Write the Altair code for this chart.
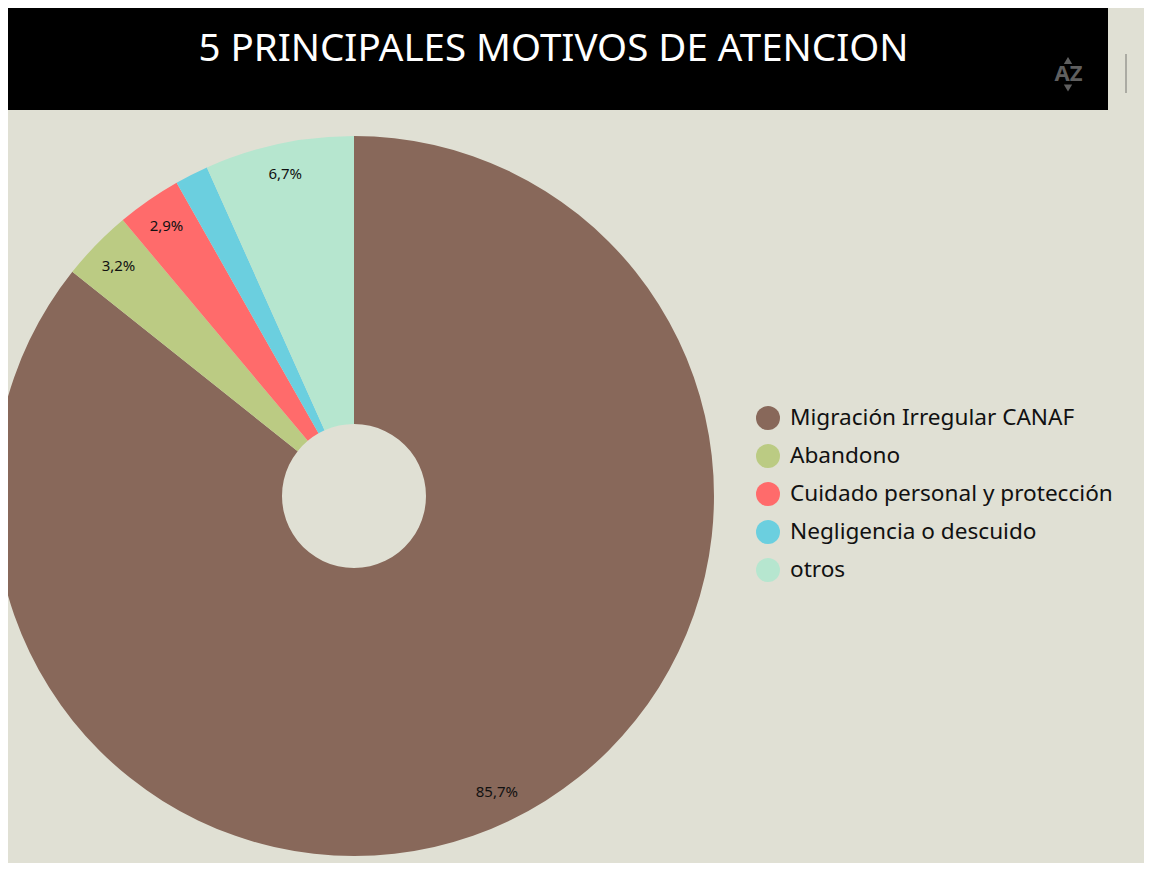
import altair as alt
import pandas as pd

categories = ["Migración Irregular CANAF", "Abandono", "Cuidado personal y protección", "Negligencia o descuido", "otros"]
values = [85.7, 3.2, 2.9, 1.5, 6.7]
labels = ["85,7%", "3,2%", "2,9%", "", "6,7%"]
colors = ["#88685A", "#BBCB83", "#FF6B6B", "#6BCFDF", "#B6E6CF"]
title_text = "5 PRINCIPALES MOTIVOS DE ATENCION"

BG = "#E0E0D4"
FONT = "Noto Sans"
CX, CY = 346, 488

df = pd.DataFrame({"cat": categories, "val": values, "lab": labels, "ord": range(len(values))})

theta = alt.Theta("val:Q", stack=True, scale=alt.Scale(range=[0, 6.283185307]))
order = alt.Order("ord:Q", sort="ascending")

arcs = alt.Chart(df).mark_arc(radius=360, radius2=72, stroke=None).encode(
    theta=theta,
    order=order,
    x=alt.value(CX),
    y=alt.value(CY),
    color=alt.Color(
        "cat:N",
        scale=alt.Scale(domain=categories, range=colors),
        sort=categories,
        legend=alt.Legend(
            title=None,
            orient="none",
            legendX=748,
            legendY=398,
            symbolType="circle",
            symbolSize=576,
            symbolStrokeWidth=0,
            symbolOpacity=1,
            labelFont=FONT,
            labelFontSize=22.6,
            labelColor="#111111",
            labelOffset=10,
            labelLimit=400,
            rowPadding=14,
            padding=0,
        ),
    ),
)

pct = alt.Chart(df).mark_text(radius=329, font=FONT, fontSize=15, color="#111111").encode(
    theta=theta,
    order=order,
    x=alt.value(CX),
    y=alt.value(CY),
    text="lab:N",
)

bar = alt.Chart(pd.DataFrame({"k": [0]})).mark_rect(color="#000000").encode(
    x=alt.value(0), x2=alt.value(1100), y=alt.value(0), y2=alt.value(102)
)
title = alt.Chart(pd.DataFrame({"t": [title_text]})).mark_text(
    font=FONT, fontSize=38.5, color="#FFFFFF", align="center", baseline="middle"
).encode(x=alt.value(545.5), y=alt.value(41), text="t:N")

az = alt.Chart(pd.DataFrame({"t": ["AZ"]})).mark_text(
    font=FONT, fontSize=22, fontWeight="bold", color="#5F5F5F", align="center", baseline="middle"
).encode(x=alt.value(1060.5), y=alt.value(66), text="t:N")
up = alt.Chart(pd.DataFrame({"k": [0]})).mark_point(shape="triangle-up", filled=True, size=70, color="#5F5F5F", opacity=1).encode(
    x=alt.value(1060), y=alt.value(52.5)
)
down = alt.Chart(pd.DataFrame({"k": [0]})).mark_point(shape="triangle-down", filled=True, size=70, color="#5F5F5F", opacity=1).encode(
    x=alt.value(1060), y=alt.value(80)
)
sep = alt.Chart(pd.DataFrame({"k": [0]})).mark_rule(color="#ABABA3", strokeWidth=2).encode(
    x=alt.value(1118), y=alt.value(46), y2=alt.value(85)
)

chart = alt.layer(arcs, pct, bar, title, az, up, down, sep).properties(
    width=1136,
    height=855,
    padding=0,
    background=BG,
    autosize=alt.AutoSizeParams(type="none", contains="padding"),
).configure_view(stroke=None)

chart.save("out.html", embed_options={"renderer": "svg", "actions": False})
